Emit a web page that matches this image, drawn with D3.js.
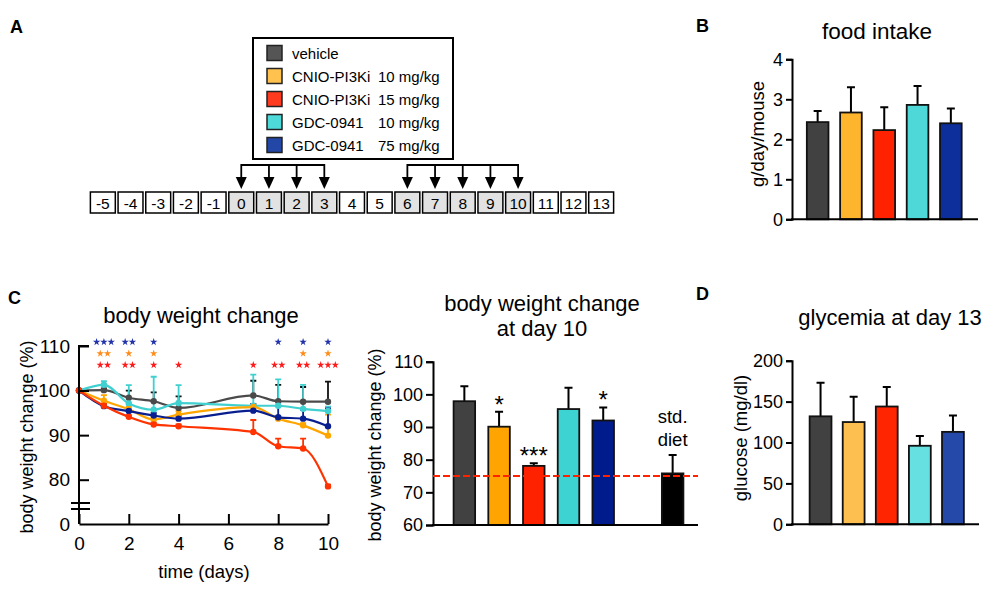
<!DOCTYPE html>
<html lang="en">
<head>
<meta charset="UTF-8"/>
<title>PI3K inhibitors: food intake, body weight, glycemia</title>
<script src="https://d3js.org/d3.v7.min.js"></script>
<style>
	body { margin: 0; background: #fff; }
	svg text { font-family: "Liberation Sans", Arial, Helvetica, sans-serif; fill: #000; }
</style>
</head>
<body>
<script>
	// ---- data ----
	var groupNames = ["vehicle", "CNIO-PI3Ki", "CNIO-PI3Ki", "GDC-0941", "GDC-0941"];
	var groupDoses = ["", "10 mg/kg", "15 mg/kg", "10 mg/kg", "75 mg/kg"];
	var groupKeys = ["veh", "cnio10", "cnio15", "gdc10", "gdc75"];

	var timelineDays = [-5, -4, -3, -2, -1, 0, 1, 2, 3, 4, 5, 6, 7, 8, 9, 10, 11, 12, 13];
	var dosingBlocks = [[0, 1, 2, 3], [6, 7, 8, 9, 10]];

	// B food intake
	var foodIntake = [2.43, 2.67, 2.23, 2.86, 2.40];
	var foodErr = [0.28, 0.63, 0.57, 0.47, 0.37];

	// C body weight over time
	var bwDays = [0, 1, 2, 3, 4, 7, 8, 9, 10];
	var bwVehicle = [100, 100.1, 98.4, 97.6, 96.1, 98.9, 97.6, 97.5, 97.5];
	var bwCnio10 = [100, 97.7, 95.8, 93.5, 94.6, 96.3, 93.7, 92.2, 89.9];
	var bwCnio15 = [100, 96.6, 94.1, 92.4, 92.0, 90.7, 87.5, 87.0, 78.5];
	var bwGdc10 = [100, 101.3, 97.1, 95.7, 97.2, 96.6, 96.6, 95.9, 95.4];
	var bwGdc75 = [100, 96.5, 95.4, 94.4, 93.7, 95.5, 94.0, 93.7, 92.0];
	var errVehicle = [0, 0.4, 1.6, 2.0, 2.6, 3.3, 3.7, 3.3, 4.5];
	var errCnio10 = [0, 1.3, 0.6, 0.6, 0.8, 0.6, 0.5, 0.5, 4.7];
	var errCnio15 = [0, 0.4, 0.4, 0.4, 0.4, 2.7, 1.7, 2.2, 0.4];
	var errGdc10 = [0, 0.8, 4.1, 7.4, 4.0, 7.0, 5.9, 5.4, 1.0];
	var errGdc75 = [0, 0.4, 0.5, 0.6, 0.6, 1.5, 2.5, 2.0, 4.0];
	// significance marks: [day, count]
	var starsGdc75 = [[1, 3], [2, 2], [3, 1], [8, 1], [9, 1], [10, 1]];
	var starsCnio10 = [[1, 2], [2, 1], [3, 1], [9, 1], [10, 1]];
	var starsCnio15 = [[1, 2], [2, 2], [3, 1], [4, 1], [7, 1], [8, 2], [9, 2], [10, 3]];

	// C body weight at day 10
	var day10Cats = ["veh", "cnio10", "cnio15", "gdc10", "gdc75", "gap", "std"];
	var day10Values = [97.9, 90.1, 78.1, 95.5, 92.0, null, 75.8];
	var day10Err = [4.6, 4.6, 0.8, 6.5, 4.0, null, 5.6];
	var day10Sig = ["", "*", "***", "", "*", "", ""];
	var stdDietLevel = 75;

	// D glycemia
	var glucose = [132, 125, 144, 96, 113];
	var glucoseErr = [41, 31, 24, 12, 20];

	// ---- colours ----
	var legendColors = ["#555555", "#FFC24F", "#FF3B1F", "#4FDADA", "#2347A6"];
	var foodColors = ["#414141", "#FDB52D", "#FF2200", "#4ED9D8", "#0C2F9C"];
	var lineColors = ["#4a4a4a", "#FFA500", "#FF3300", "#40D0D0", "#0A1F8F"];
	var day10Colors = ["#414141", "#FFA400", "#FF2200", "#3DD3D3", "#001C8C", "none", "#000000"];
	var glucoseColors = ["#414141", "#FDBF4F", "#FF2500", "#66E0E0", "#2449A8"];
	var starColors = {gdc75: "#2233AA", cnio10: "#FF8C1A", cnio15: "#FF1A1A"};

	var svg = d3.select("body").append("svg")
		.attr("width", 1002)
		.attr("height", 595);

	function styleAxis(g, fs) {
		g.selectAll("path, line").attr("stroke", "#000").attr("stroke-width", 2);
		g.selectAll("text").attr("font-size", fs).attr("font-family", null);
		g.attr("font-family", null);
	}

	// panel letters
	[["A", 10, 33], ["B", 696, 32], ["C", 8, 304], ["D", 696, 300]].forEach(function(p) {
		svg.append("text").attr("x", p[1]).attr("y", p[2])
			.attr("font-size", 18).attr("font-weight", "bold").text(p[0]);
	});

	// ================= A: legend + timeline =================
	var legend = svg.append("g");
	legend.append("rect")
		.attr("x", 253).attr("y", 38).attr("width", 200).attr("height", 121)
		.attr("fill", "none").attr("stroke", "#000").attr("stroke-width", 2);
	var legendY = d3.scalePoint().domain(groupKeys).range([53, 145]);
	groupKeys.forEach(function(k, i) {
		var y = legendY(k);
		legend.append("rect")
			.attr("x", 267).attr("y", y - 7.5).attr("width", 15).attr("height", 15)
			.attr("fill", legendColors[i]).attr("stroke", "#222").attr("stroke-width", 1.5);
		legend.append("text").attr("x", 292).attr("y", y + 5.5)
			.attr("font-size", 15).text(groupNames[i]);
		legend.append("text").attr("x", 378).attr("y", y + 5.5)
			.attr("font-size", 15).text(groupDoses[i]);
	});

	var tx = d3.scaleBand().domain(timelineDays).range([89, 615]).paddingInner(0.1).paddingOuter(0.05);
	var dosed = d3.merge(dosingBlocks);
	var cells = svg.append("g").selectAll("g")
		.data(timelineDays).enter().append("g");
	cells.append("rect")
		.attr("x", function(d) { return tx(d); })
		.attr("y", 192)
		.attr("width", tx.bandwidth())
		.attr("height", 21)
		.attr("fill", function(d) { return dosed.indexOf(d) >= 0 ? "#e2e2e2" : "#fff"; })
		.attr("stroke", "#000").attr("stroke-width", 1.5);
	cells.append("text")
		.attr("x", function(d) { return tx(d) + tx.bandwidth() / 2; })
		.attr("y", 208.5)
		.attr("text-anchor", "middle")
		.attr("font-size", 15.5)
		.text(function(d) { return d; });

	var arrows = svg.append("g");
	dosingBlocks.forEach(function(block) {
		var cx = function(d) { return tx(d) + tx.bandwidth() / 2; };
		arrows.append("line")
			.attr("x1", cx(block[0])).attr("x2", cx(block[block.length - 1]))
			.attr("y1", 165).attr("y2", 165)
			.attr("stroke", "#000").attr("stroke-width", 1.8);
		block.forEach(function(d) {
			arrows.append("line")
				.attr("x1", cx(d)).attr("x2", cx(d))
				.attr("y1", 164).attr("y2", 178)
				.attr("stroke", "#000").attr("stroke-width", 1.8);
			arrows.append("path")
				.attr("d", "M" + (cx(d) - 5.5) + ",177 L" + (cx(d) + 5.5) + ",177 L" + cx(d) + ",189 Z")
				.attr("fill", "#000");
		});
	});

	// ================= generic bar chart =================
	function barChart(opts) {
		var g = svg.append("g");
		var x = d3.scaleBand().domain(opts.cats).range(opts.xRange).paddingInner(opts.pad).paddingOuter(opts.pad / 2);
		var y = d3.scaleLinear().domain(opts.yDomain).range(opts.yRange);
		var data = opts.cats.map(function(c, i) {
			return {c: c, v: opts.values[i], e: opts.err[i], col: opts.colors[i]};
		}).filter(function(d) { return d.v != null; });

		// error bars
		g.selectAll(".err").data(data).enter().append("path")
			.attr("d", function(d) {
				var cx = x(d.c) + x.bandwidth() / 2;
				return "M" + cx + "," + y(d.v) + "V" + y(d.v + d.e) +
					"M" + (cx - 4) + "," + y(d.v + d.e) + "H" + (cx + 4);
			})
			.attr("stroke", "#000").attr("stroke-width", 2).attr("fill", "none");

		g.selectAll(".bar").data(data).enter().append("rect")
			.attr("x", function(d) { return x(d.c); })
			.attr("y", function(d) { return y(d.v); })
			.attr("width", x.bandwidth())
			.attr("height", function(d) { return y(opts.yDomain[0]) - y(d.v); })
			.attr("fill", function(d) { return d.col; })
			.attr("stroke", "#111").attr("stroke-width", 1.8);

		var ya = g.append("g")
			.attr("transform", "translate(" + opts.axisX + ",0)")
			.call(d3.axisLeft(y).tickValues(opts.ticks).tickFormat(d3.format("d"))
				.tickSizeOuter(0).tickSize(opts.tickLen).tickPadding(3));
		styleAxis(ya, 18);

		g.append("line")
			.attr("x1", opts.axisX - 1).attr("x2", opts.xEnd)
			.attr("y1", y(opts.yDomain[0])).attr("y2", y(opts.yDomain[0]))
			.attr("stroke", "#000").attr("stroke-width", 2);

		return {g: g, x: x, y: y, data: data};
	}

	// ================= B: food intake =================
	barChart({
		cats: groupKeys, values: foodIntake, err: foodErr, colors: foodColors,
		xRange: [801, 967.5], pad: 0.35,
		yDomain: [0, 4], yRange: [219.3, 59.3], ticks: [0, 1, 2, 3, 4],
		axisX: 792, xEnd: 978, tickLen: 6
	});
	svg.append("text").attr("x", 877).attr("y", 39)
		.attr("text-anchor", "middle").attr("font-size", 22.5).text("food intake");
	svg.append("text").attr("transform", "translate(764,134) rotate(-90)")
		.attr("text-anchor", "middle").attr("font-size", 18.5).text("g/day/mouse");

	// ================= C: body weight change over time =================
	var lx = d3.scaleLinear().domain([0, 10]).range([79, 328]);
	var ly = d3.scaleLinear().domain([0, 75, 110]).range([524, 502, 346]);
	var series = [
		{k: "veh", v: bwVehicle, e: errVehicle, col: lineColors[0]},
		{k: "gdc10", v: bwGdc10, e: errGdc10, col: lineColors[3]},
		{k: "cnio10", v: bwCnio10, e: errCnio10, col: lineColors[1]},
		{k: "gdc75", v: bwGdc75, e: errGdc75, col: lineColors[4]},
		{k: "cnio15", v: bwCnio15, e: errCnio15, col: lineColors[2]}
	];
	var lc = svg.append("g");

	series.forEach(function(s) {
		bwDays.forEach(function(d, i) {
			if (!s.e[i]) return;
			var cx = lx(d), top = ly(s.v[i] + s.e[i]);
			lc.append("path")
				.attr("d", "M" + cx + "," + ly(s.v[i]) + "V" + top + "M" + (cx - 3) + "," + top + "H" + (cx + 3))
				.attr("stroke", s.k === "veh" ? "#111" : s.col).attr("stroke-width", 1.8).attr("fill", "none");
		});
	});

	var line = d3.line()
		.x(function(d) { return lx(d[0]); })
		.y(function(d) { return ly(d[1]); })
		.curve(d3.curveMonotoneX);

	series.forEach(function(s) {
		var pts = bwDays.map(function(d, i) { return [d, s.v[i]]; });
		lc.append("path").datum(pts)
			.attr("d", line)
			.attr("fill", "none").attr("stroke", s.col).attr("stroke-width", 2.2);
		lc.selectAll(".pt-" + s.k).data(pts).enter().append("circle")
			.attr("cx", function(d) { return lx(d[0]); })
			.attr("cy", function(d) { return ly(d[1]); })
			.attr("r", 3.2)
			.attr("fill", s.col);
	});

	var lxa = lc.append("g")
		.attr("transform", "translate(0," + ly(0) + ")")
		.call(d3.axisBottom(lx).tickValues([0, 2, 4, 6, 8, 10]).tickSizeInner(-10).tickSizeOuter(0).tickPadding(13));
	styleAxis(lxa, 19);
	var lya = lc.append("g")
		.attr("transform", "translate(" + lx(0) + ",0)")
		.call(d3.axisLeft(ly).tickValues([0, 80, 90, 100, 110]).tickSizeInner(-10).tickSizeOuter(0).tickPadding(9));
	styleAxis(lya, 19);
	lya.select("path").attr("d", "M0," + ly(0) + "V" + ly(110) + "H10");
	lya.selectAll(".tick").filter(function(d) { return d === 0; }).select("line").remove();
	// axis break
	[503, 509].forEach(function(yb) {
		lc.append("line").attr("x1", 71).attr("x2", 90).attr("y1", yb).attr("y2", yb)
			.attr("stroke", "#000").attr("stroke-width", 2);
	});

	// significance stars
	var star = d3.symbol().type(d3.symbolStar).size(17);
	[["gdc75", starsGdc75, 342], ["cnio10", starsCnio10, 353.5], ["cnio15", starsCnio15, 365]].forEach(function(row) {
		row[1].forEach(function(s) {
			for (var j = 0; j < s[1]; j++) {
				var sx = lx(s[0]) + (j - (s[1] - 1) / 2) * 7.3;
				lc.append("path").attr("d", star)
					.attr("transform", "translate(" + sx + "," + row[2] + ")")
					.attr("fill", starColors[row[0]]);
			}
		});
	});

	svg.append("text").attr("x", 201).attr("y", 323)
		.attr("text-anchor", "middle").attr("font-size", 22).text("body weight change");
	svg.append("text").attr("x", 204).attr("y", 578)
		.attr("text-anchor", "middle").attr("font-size", 18.5).text("time (days)");
	svg.append("text").attr("transform", "translate(33,437) rotate(-90)")
		.attr("text-anchor", "middle").attr("font-size", 18).text("body weight change (%)");

	// ================= C: body weight at day 10 =================
	var bc = barChart({
		cats: day10Cats, values: day10Values, err: day10Err, colors: day10Colors,
		xRange: [447, 690], pad: 0.38,
		yDomain: [60, 110], yRange: [525, 361.7], ticks: [60, 70, 80, 90, 100, 110],
		axisX: 433, xEnd: 698, tickLen: 7
	});
	bc.g.append("line")
		.attr("x1", 433).attr("x2", 698)
		.attr("y1", bc.y(stdDietLevel)).attr("y2", bc.y(stdDietLevel))
		.attr("stroke", "#FF2200").attr("stroke-width", 2).attr("stroke-dasharray", "7,3");
	bc.g.selectAll(".sig").data(bc.data.filter(function(d) { return day10Sig[day10Cats.indexOf(d.c)]; }))
		.enter().append("text")
		.attr("x", function(d) { return bc.x(d.c) + bc.x.bandwidth() / 2; })
		.attr("y", function(d) { return bc.y(d.v + d.e) + 1; })
		.attr("text-anchor", "middle").attr("font-size", 24)
		.text(function(d) { return day10Sig[day10Cats.indexOf(d.c)]; });
	var stdX = bc.x("std") + bc.x.bandwidth() / 2;
	bc.g.append("text").attr("x", stdX).attr("y", 423).attr("text-anchor", "middle").attr("font-size", 18.5).text("std.");
	bc.g.append("text").attr("x", stdX).attr("y", 446).attr("text-anchor", "middle").attr("font-size", 18.5).text("diet");

	svg.append("text").attr("x", 542).attr("y", 311)
		.attr("text-anchor", "middle").attr("font-size", 22).text("body weight change");
	svg.append("text").attr("x", 542).attr("y", 336)
		.attr("text-anchor", "middle").attr("font-size", 22).text("at day 10");
	svg.append("text").attr("transform", "translate(381,445) rotate(-90)")
		.attr("text-anchor", "middle").attr("font-size", 18).text("body weight change (%)");

	// ================= D: glycemia =================
	barChart({
		cats: groupKeys, values: glucose, err: glucoseErr, colors: glucoseColors,
		xRange: [804, 969.5], pad: 0.34,
		yDomain: [0, 200], yRange: [524.3, 360.7], ticks: [0, 50, 100, 150, 200],
		axisX: 792, xEnd: 979, tickLen: 6
	});
	svg.append("text").attr("x", 890).attr("y", 325)
		.attr("text-anchor", "middle").attr("font-size", 22).text("glycemia at day 13");
	svg.append("text").attr("transform", "translate(747,438) rotate(-90)")
		.attr("text-anchor", "middle").attr("font-size", 18.5).text("glucose (mg/dl)");
</script>
</body>
</html>
